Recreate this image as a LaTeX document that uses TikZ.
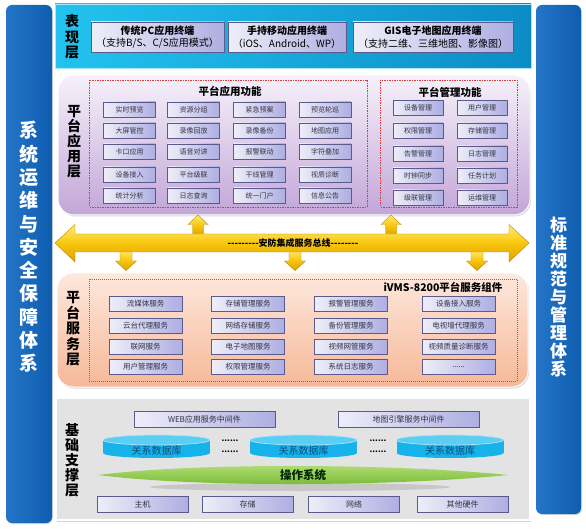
\documentclass[tikz,border=0pt]{standalone}
\usepackage{fontspec}
\setmainfont{Noto Sans CJK SC}
\newfontfamily\plainfnt{Noto Sans CJK SC}
\usetikzlibrary{shadows,calc}
\newcommand\mysixdots{......}
\definecolor{sideL}{HTML}{2475C8}
\definecolor{sideR}{HTML}{0F5DAF}
\definecolor{topL}{HTML}{22C3EF}
\definecolor{topR}{HTML}{0C8CC6}
\definecolor{appTop}{HTML}{F6F1FA}
\definecolor{appBot}{HTML}{C2A6D8}
\definecolor{svcTop}{HTML}{FDE8DD}
\definecolor{svcBot}{HTML}{F6B898}
\definecolor{baseG}{HTML}{E3E3E3}
\definecolor{btnL}{HTML}{EEEEF9}
\definecolor{btnR}{HTML}{AEAEE2}
\definecolor{btnborder}{HTML}{5A5A8C}
\definecolor{btntext}{HTML}{333344}
\definecolor{goldT}{HTML}{FFEC70}
\definecolor{goldM}{HTML}{F8C60C}
\definecolor{goldB}{HTML}{DDA000}
\definecolor{goldD}{HTML}{C08A00}
\definecolor{cylbody}{HTML}{16B2EA}
\definecolor{cyltop}{HTML}{5CCDF3}
\definecolor{cyltext}{HTML}{0A4F7E}
\definecolor{grnT}{HTML}{B8E27E}
\definecolor{grnB}{HTML}{72B52C}
\definecolor{dashred}{HTML}{E03A3A}
\definecolor{dotpur}{HTML}{8A5A9A}
\begin{document}
\begin{tikzpicture}[x=1pt,y=-1pt,
  btn/.style={draw=btnborder, line width=0.5pt, left color=btnL, right color=btnR,
    minimum height=15pt, inner sep=0pt, font=\fontsize{7}{8}\selectfont, text=btntext,
    drop shadow={shadow xshift=0.8pt, shadow yshift=-0.8pt, opacity=0.35}},
  abtn/.style={btn, minimum width=52pt},
  mbtn/.style={btn, minimum width=50pt},
  sbtn/.style={btn, minimum width=73pt, font=\fontsize{7.5}{8}\selectfont},
  bbtn/.style={btn, minimum width=91pt, minimum height=16pt, font=\fontsize{8}{9}\selectfont},
  mwbtn/.style={btn, minimum width=141pt, minimum height=16pt, font=\fontsize{8}{9}\selectfont},
  tbox/.style={btn, minimum height=30pt, align=center, font=\fontsize{10}{12.5}\selectfont, text=black},
  layerlbl/.style={font=\bfseries\fontsize{14}{15.5}\selectfont, align=center, inner sep=0pt},
  sidelbl/.style={font=\bfseries\fontsize{19}{23.3}\selectfont, text=white, align=center, inner sep=0pt},
  ttl/.style={font=\bfseries\fontsize{10.5}{12}\selectfont, inner sep=0pt},
  goldarrow/.style={top color=goldT, bottom color=goldB, middle color=goldM, draw=goldD, line width=0.4pt},
  sidebar/.style={left color=sideL, right color=sideR, rounded corners=6pt,
    drop shadow={shadow xshift=1pt, shadow yshift=-1pt, opacity=0.3}}
]
\useasboundingbox (0,0) rectangle (586,529);
\fill[white] (0,0) rectangle (586,529);

% side bars
\path[sidebar] (6,5) rectangle (52,523);
\path[sidebar] (536,5) rectangle (581,514);
\node[sidelbl] (lside) at (29,247) {系\\统\\运\\维\\与\\安\\全\\保\\障\\体\\系};
\node[sidelbl, font=\bfseries\fontsize{17}{18}\selectfont] (rside) at (558.5,297) {标\\准\\规\\范\\与\\管\\理\\体\\系};

% presentation layer
\path[left color=topL, right color=topR, draw=white!60!topL, line width=0.6pt,
  drop shadow={shadow xshift=1pt, shadow yshift=-1pt, opacity=0.3}] (55,4) rectangle (531,68);
\node[layerlbl] (l1) at (72,37) {表\\现\\层};
\node[tbox, minimum width=133pt] (t1) at (157.5,37) {\textbf{传统PC应用终端}\\（支持B/S、C/S应用模式）};
\node[tbox, minimum width=118pt] (t2) at (287,37) {\textbf{手持移动应用终端}\\（iOS、Android、WP）};
\node[tbox, minimum width=160pt] (t3) at (433,37) {\textbf{GIS电子地图应用终端}\\（支持二维、三维地图、影像图）};

% application layer
\path[top color=appTop, bottom color=appBot, draw=white, line width=1pt, rounded corners=16pt,
  drop shadow={shadow xshift=1pt, shadow yshift=-1.5pt, opacity=0.3}] (58,75) rectangle (530,215);
\node[layerlbl, font=\bfseries\fontsize{14}{15}\selectfont] (l2) at (74,142) {平\\台\\应\\用\\层};
\draw[dashred, dashed, dash pattern=on 1.5pt off 1pt, line width=0.6pt] (89,80) rectangle (367,207);
\draw[dashred, dashed, dash pattern=on 1.5pt off 1pt, line width=0.6pt] (380,80) rectangle (517,207);
\node[ttl] (tapp) at (230,91) {平台应用功能};
\node[ttl] (tmgmt) at (450,92) {平台管理功能};

\foreach \r/\y/\a/\b/\c/\d in {1/109.5/实时预览/资源分组/紧急预案/预览轮巡,
  2/130.5/大屏管控/录像回放/录像备份/地图应用,
  3/151.5/卡口应用/语音对讲/报警联动/字符叠加,
  4/174.5/设备接入/平台级联/干线管理/视质诊断,
  5/195.5/统计分析/日志查询/统一门户/信息公告}{
  \node[abtn] (a\r1) at (129.5,\y) {\a};
  \node[abtn] (a\r2) at (193.5,\y) {\b};
  \node[abtn] (a\r3) at (259.5,\y) {\c};
  \node[abtn] (a\r4) at (325,\y) {\d};
}
\foreach \r/\y/\a/\b in {1/108/设备管理/用户管理, 2/130.5/权限管理/存储管理,
  3/153.5/告警管理/日志管理, 4/175.5/时钟同步/任务计划, 5/197.5/级联管理/运维管理}{
  \node[mbtn] (m\r1) at (418,\y) {\a};
  \node[mbtn] (m\r2) at (482,\y) {\b};
}

% bus
\foreach \x in {198,391}{
  \path[goldarrow] (\x-5.5,236) -- (\x-5.5,224.5) -- (\x-10,224.5) -- (\x,215) -- (\x+10,224.5) -- (\x+5.5,224.5) -- (\x+5.5,236) -- cycle;
}
\foreach \x in {126,295,477}{
  \path[goldarrow] (\x-6,250) -- (\x-6,261) -- (\x-10.5,261) -- (\x,270.5) -- (\x+10.5,261) -- (\x+6,261) -- (\x+6,250) -- cycle;
}
\path[goldarrow] (55,243) -- (75,224.5) -- (75,234) -- (509,234) -- (509,224.5) -- (529,243)
  -- (509,262) -- (509,252) -- (75,252) -- (75,262) -- cycle;
\node[font=\plainfnt\bfseries\fontsize{9}{10}\selectfont, inner sep=0pt] (bus) at (293,243) {---------安防集成服务总线--------};

% service layer
\path[top color=svcTop, bottom color=svcBot, draw=white, line width=1pt, rounded corners=16pt,
  drop shadow={shadow xshift=1pt, shadow yshift=-1.5pt, opacity=0.3}] (57,273) rectangle (528,387);
\node[layerlbl, font=\bfseries\fontsize{14}{15.5}\selectfont] (l3) at (73,329) {平\\台\\服\\务\\层};
\draw[dotpur, dash pattern=on 1pt off 1pt, line width=0.6pt] (89,279) rectangle (517,381);
\node[ttl] (tsvc) at (443,287) {iVMS-8200平台服务组件};
\foreach \r/\y/\a/\b/\c/\d in {1/303.5/流媒体服务/存储管理服务/报警管理服务/设备接入服务,
  2/325.5/云台代理服务/网络存储服务/备份管理服务/电视墙代理服务,
  3/347/联网服务/电子地图服务/视频网管服务/视频质量诊断服务,
  4/367/用户管理服务/权限管理服务/系统日志服务/\mysixdots}{
  \node[sbtn] (s\r1) at (145.5,\y) {\a};
  \node[sbtn] (s\r2) at (248,\y) {\b};
  \node[sbtn] (s\r3) at (351,\y) {\c};
  \node[sbtn] (s\r4) at (458.5,\y) {\d};
}

% base layer
\path[fill=baseG, draw=white, line width=1.5pt,
  drop shadow={shadow xshift=1pt, shadow yshift=-1.5pt, opacity=0.35}] (56,398) rectangle (530,520);
\node[layerlbl, font=\bfseries\fontsize{14}{15}\selectfont] (l4) at (72,460) {基\\础\\支\\撑\\层};
\node[mwbtn] (web) at (204.5,419) {WEB应用服务中间件};
\node[mwbtn] (gis) at (408.5,419) {地图引擎服务中间件};

\foreach \cx [count=\i] in {156.5,303.5,450}{
  \fill[cylbody] (\cx-53.5,440) rectangle (\cx+53.5,453);
  \fill[cylbody] (\cx,453) ellipse [x radius=53.5pt, y radius=5pt];
  \fill[cyltop] (\cx,440) ellipse [x radius=53.5pt, y radius=5pt];
  \draw[white!65!cylbody, line width=0.7pt] (\cx,440) ellipse [x radius=53.5pt, y radius=5pt];
  \node[font=\fontsize{10}{11}\selectfont, text=cyltext, inner sep=0pt] (db\i) at (\cx,451) {关系数据库};
}
\foreach \x [count=\i] in {230,378}{
  \node[font=\bfseries\fontsize{8}{8}\selectfont, inner sep=0pt] (dA\i) at (\x,441) {\mysixdots};
  \node[font=\bfseries\fontsize{8}{8}\selectfont, inner sep=0pt] (dB\i) at (\x,452) {\mysixdots};
}

\fill[black, opacity=0.12] (300,487) ellipse [x radius=150pt, y radius=4pt];
\path[top color=grnT, bottom color=grnB] (98,475) .. controls (200,462) and (400,464) .. (508,475)
  .. controls (400,486) and (200,488) .. (98,475) -- cycle;
\node[font=\bfseries\fontsize{11.5}{12}\selectfont, text=black!85!green, inner sep=0pt] (os) at (303,475) {操作系统};

\node[bbtn] (h1) at (142.5,504) {主机};
\node[bbtn] (h2) at (247.5,504) {存储};
\node[bbtn] (h3) at (354,504) {网络};
\node[bbtn] (h4) at (462.5,504) {其他硬件};
\end{tikzpicture}
\end{document}
